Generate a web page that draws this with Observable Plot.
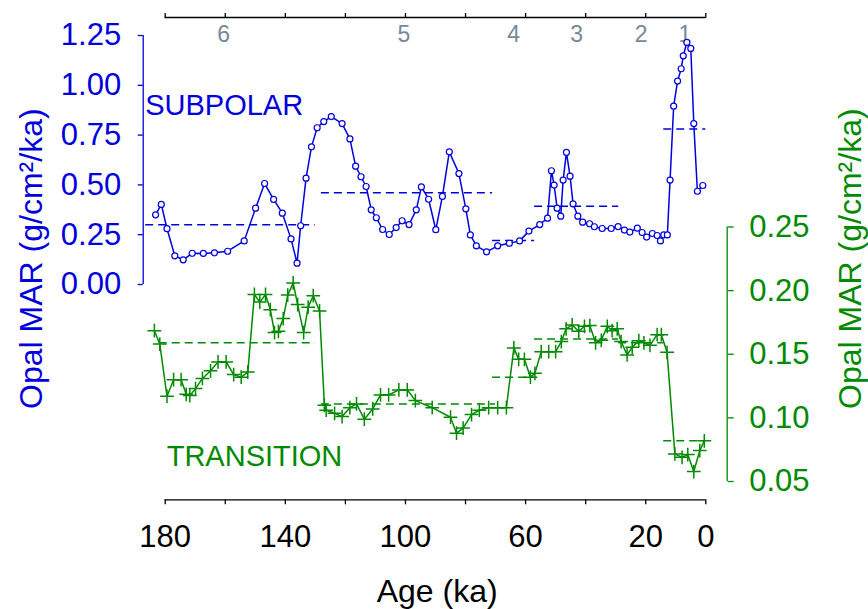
<!DOCTYPE html>
<html><head><meta charset="utf-8">
<script src="https://cdn.jsdelivr.net/npm/d3@7"></script>
<script src="https://cdn.jsdelivr.net/npm/@observablehq/plot@0.6"></script>
<style>body{margin:0;background:#fff}</style>
</head><body><div id="chart"></div>
<script>
// ---- data ----
const ageSubpolar = [183.2,181.3,179.4,176.8,174.0,171.0,167.3,163.6,159.2,153.7,149.9,146.9,143.9,141.0,138.1,136.1,134.9,133.1,131.3,129.4,127.2,124.7,121.1,118.5,116.6,114.8,113.1,111.4,109.7,107.6,105.4,103.1,101.1,98.8,96.4,94.7,92.3,89.9,87.7,85.4,82.2,79.9,78.4,76.4,73.0,69.3,65.4,62.0,58.9,55.3,52.7,51.4,50.5,49.5,48.3,47.5,46.4,45.2,44.2,42.6,41.0,38.7,37.1,34.5,31.5,29.2,27.1,25.3,22.8,21.2,19.7,17.8,16.2,15.1,14.0,12.8,11.9,10.7,9.4,8.2,7.5,6.3,5.0,4.0,2.8,1.0];
const opalSubpolar = [0.350,0.402,0.280,0.144,0.124,0.157,0.156,0.159,0.167,0.219,0.383,0.507,0.427,0.358,0.229,0.107,0.295,0.534,0.691,0.787,0.818,0.843,0.808,0.731,0.594,0.541,0.492,0.375,0.335,0.276,0.251,0.286,0.320,0.301,0.375,0.490,0.428,0.275,0.442,0.666,0.557,0.380,0.249,0.194,0.164,0.194,0.207,0.219,0.268,0.301,0.333,0.571,0.499,0.383,0.343,0.524,0.663,0.544,0.405,0.343,0.313,0.305,0.290,0.281,0.281,0.291,0.273,0.263,0.283,0.261,0.238,0.256,0.246,0.219,0.249,0.249,0.524,0.895,1.021,1.083,1.148,1.215,1.185,0.808,0.468,0.497];

const ageTransition = [183.6,181.8,179.4,177.2,174.7,173.0,171.8,169.9,167.6,164.9,162.4,159.7,157.2,154.7,152.5,150.3,148.5,146.6,145.0,143.6,142.3,140.7,139.2,137.4,135.9,133.9,132.4,130.7,128.6,127.0,126.4,123.6,121.1,118.5,116.3,113.7,110.9,108.3,105.6,102.2,99.4,96.7,91.1,85.0,83.0,80.8,78.0,75.4,72.3,69.3,66.4,63.9,62.3,60.4,58.4,56.9,54.8,52.3,50.0,48.1,46.5,44.5,42.3,40.4,38.6,36.7,34.8,32.8,31.2,29.5,28.2,26.2,24.5,22.3,20.6,18.6,16.2,14.8,12.9,10.3,7.9,6.0,4.0,2.0,0.5];
const opalTransition = [0.1685,0.158,0.117,0.130,0.130,0.1185,0.1175,0.123,0.131,0.137,0.144,0.144,0.134,0.132,0.136,0.197,0.191,0.197,0.185,0.167,0.168,0.178,0.1965,0.206,0.189,0.167,0.187,0.196,0.184,0.110,0.106,0.1036,0.101,0.108,0.111,0.099,0.107,0.118,0.118,0.122,0.122,0.1136,0.108,0.1005,0.088,0.092,0.1026,0.106,0.108,0.108,0.108,0.155,0.146,0.146,0.132,0.135,0.152,0.152,0.152,0.160,0.170,0.173,0.168,0.172,0.1725,0.159,0.161,0.172,0.1685,0.170,0.160,0.1495,0.1555,0.1607,0.159,0.157,0.1654,0.1654,0.1515,0.0717,0.069,0.0712,0.0578,0.0743,0.082];

const misStages = ["6","5","4","3","2","1"];
const misBoundaries = [191,130,71,57,29,14,0];

const subpolarMeanStart = [186.5,128,71,57,14];
const subpolarMeanEnd   = [130,71,57,29,0];
const subpolarMean      = [0.300,0.460,0.221,0.393,0.780];

const transitionMeanStart = [182,128,71,57,29,14];
const transitionMeanEnd   = [130,70,57,29,14,0];
const transitionMean      = [0.159,0.111,0.132,0.162,0.159,0.082];

const subpolarTicks = [0,0.25,0.5,0.75,1.0,1.25];
const transitionTicks = [0.05,0.10,0.15,0.20,0.25];
const ageTicks = [180,160,140,120,100,80,60,40,20,0];
const ageTickLabels = [180,140,100,60,20,0];

// ---- layout ----
const W = 868, H = 609;
const BLUE = "#0000dd", GREEN = "#008a00", GRAY = "#778899";
const FONT = "'Liberation Sans', Arial, Helvetica, sans-serif";
const xRange = [164.7, 705.3];
const yRange = [284, 35];
const mL = 142.7, mR = W - 726.7, mT = 17, mB = H - 499.3;

// helpers to express positions in scale units
const pxToAge = d3.scaleLinear().domain(xRange).range([180, 0]);
const pxToSub = d3.scaleLinear().domain(yRange).range([0, 1.25]);
// right (transition) axis spans pixels 481 (0.05) .. 226.5 (0.25)
const transToSub = d3.scaleLinear().domain([0.05, 0.25]).range([pxToSub(481), pxToSub(226.5)]);

const subpolar = ageSubpolar.map((a, i) => ({age: a, v: opalSubpolar[i]}));
const transition = ageTransition.map((a, i) => ({age: a, v: transToSub(opalTransition[i])}));
const subMeans = subpolarMean.map((v, i) => ({x1: subpolarMeanStart[i], x2: subpolarMeanEnd[i], v}));
const trMeans = transitionMean.map((v, i) => ({x1: transitionMeanStart[i], x2: transitionMeanEnd[i], v: transToSub(v)}));
const stages = misStages.map((s, i) => ({s, mid: (misBoundaries[i] + misBoundaries[i + 1]) / 2}));

const yTitle = "Opal MAR (g/cm\u00B2/ka)";

const chart = Plot.plot({
  width: W, height: H,
  marginLeft: mL, marginRight: mR, marginTop: mT, marginBottom: mB,
  x: {domain: [180, 0], range: xRange},
  y: {domain: [0, 1.25], range: yRange},
  style: {fontFamily: FONT, background: "white", overflow: "visible"},
  marks: [
    // bottom axis
    Plot.ruleY([pxToSub(H - mB)], {x1: 180, x2: 0, stroke: "black", strokeWidth: 1.3}),
    Plot.axisX({anchor: "bottom", ticks: ageTicks, tickSize: 5, tickPadding: 20, strokeWidth: 1.3,
      tickFormat: d => ageTickLabels.includes(d) ? String(d) : "", fontSize: 31, color: "black", label: null}),
    Plot.text(["Age (ka)"], {text: d => d, frameAnchor: "bottom", textAnchor: "middle", dx: 2, dy: 91.5, lineAnchor: "middle", fontSize: 32, fill: "black"}),
    // top axis (MIS stages)
    Plot.ruleY([pxToSub(mT)], {x1: 180, x2: 0, stroke: "black", strokeWidth: 1.3}),
    Plot.axisX({anchor: "top", ticks: ageTicks, tickSize: 5, strokeWidth: 1.3, tickFormat: () => "", color: "black", label: null}),
    Plot.text(stages, {x: "mid", text: "s", frameAnchor: "top", dy: 16.8, lineAnchor: "middle", fontSize: 23, fill: GRAY}),
    // left axis (subpolar)
    Plot.ruleX([pxToAge(mL)], {y1: 0, y2: 1.25, stroke: BLUE, strokeWidth: 1.3}),
    Plot.axisY({anchor: "left", ticks: subpolarTicks, tickFormat: d3.format(".2f"), tickSize: 5, tickPadding: 17,
      strokeWidth: 1.3, fontSize: 31, color: BLUE, label: null}),
    Plot.text([yTitle], {text: d => d, frameAnchor: "left", textAnchor: "middle", dx: -123.7, rotate: -90, lineAnchor: "top", fontSize: 32, fill: BLUE}),
    // right axis (transition)
    Plot.ruleX([pxToAge(W - mR)], {y1: transToSub(0.05), y2: transToSub(0.25), stroke: GREEN, strokeWidth: 1.3}),
    Plot.axisY({anchor: "right", ticks: transitionTicks.map(transToSub), tickFormat: d => transToSub.invert(d).toFixed(2),
      tickSize: 6, tickPadding: 16, strokeWidth: 1.3, fontSize: 31, color: GREEN, label: null}),
    Plot.text([yTitle], {text: d => d, frameAnchor: "right", textAnchor: "middle", dx: 111.3, rotate: -90, lineAnchor: "top", fontSize: 32, fill: GREEN}),
    // stage means
    Plot.ruleY(subMeans, {y: "v", x1: "x1", x2: "x2", stroke: BLUE, strokeWidth: 1.5, strokeDasharray: "8,5"}),
    Plot.ruleY(trMeans, {y: "v", x1: "x1", x2: "x2", stroke: GREEN, strokeWidth: 1.5, strokeDasharray: "8,5"}),
    // series
    Plot.line(subpolar, {x: "age", y: "v", stroke: BLUE, strokeWidth: 1.5}),
    Plot.dot(subpolar, {x: "age", y: "v", r: 3, stroke: BLUE, fill: "white", strokeWidth: 1.2}),
    Plot.line(transition, {x: "age", y: "v", stroke: GREEN, strokeWidth: 1.5}),
    Plot.dot(transition, {x: "age", y: "v", symbol: "plus", r: 4.5, stroke: GREEN, strokeWidth: 1.5}),
    // series labels
    Plot.text(["SUBPOLAR"], {text: d => d, frameAnchor: "top-left", dx: 2, dy: 77.4, lineAnchor: "top", textAnchor: "start", fontSize: 29, fill: BLUE}),
    Plot.text(["TRANSITION"], {text: d => d, frameAnchor: "top-left", dx: 23.5, dy: 428.4, lineAnchor: "top", textAnchor: "start", fontSize: 29, fill: GREEN})
  ]
});
document.getElementById("chart").appendChild(chart);
</script>
</body></html>
